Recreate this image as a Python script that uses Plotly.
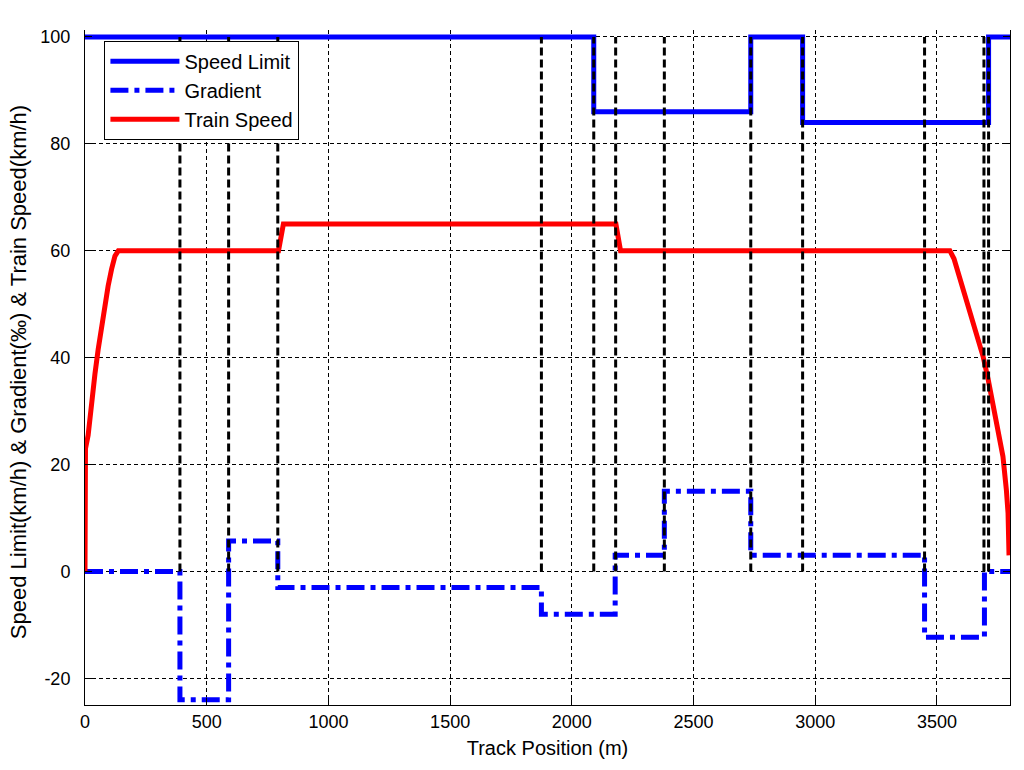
import plotly.graph_objects as go

# ---------------------------------------------------------------
# Data
# ---------------------------------------------------------------
# speed limit (km/h), stepwise: value holds from pos to the next pos
limit_pos = [0, 2090, 2735, 2948, 3712, 3800]
limit_val = [100, 86, 100, 84, 100, 100]

# gradient (per mille), stepwise
grad_pos = [0, 390, 590, 792, 1875, 2178, 2380, 2735, 3449, 3695, 3800]
grad_val = [0, -24, 5.7, -3, -8, 3, 15, 3, -12.3, 0, 0]

# train speed (km/h)
speed_pos = [0, 0.5, 2, 13, 27, 41, 54, 68, 82, 95, 109, 123, 137,
             795, 815, 2181, 2200, 3553, 3570, 3587, 3614, 3642, 3669,
             3689, 3710, 3730, 3751, 3771, 3785, 3792, 3796]
speed_val = [0, 18, 23, 25.5, 32, 37, 41.5, 46, 49.6, 53.4, 56.5, 59, 60,
             60, 65, 65, 60, 60, 58.5, 56, 51.5, 47.8, 44,
             40.3, 36, 31.5, 26.5, 21.5, 15.3, 10.9, 3]

# section boundaries (black dashed verticals)
section_pos = [390, 590, 792, 1875, 2090, 2180, 2380, 2735, 2948, 3449, 3693, 3712]
section_low, section_high = 0, 100

x_ticks = [0, 500, 1000, 1500, 2000, 2500, 3000, 3500]
y_ticks = [-20, 0, 20, 40, 60, 80, 100]

# ---------------------------------------------------------------
# Figure
# ---------------------------------------------------------------
fig = go.Figure()

fig.add_trace(go.Scatter(x=limit_pos, y=limit_val, mode="lines", name="Speed Limit",
                         line=dict(color="#0000ff", width=5, shape="hv")))
fig.add_trace(go.Scatter(x=grad_pos, y=grad_val, mode="lines", name="Gradient",
                         line=dict(color="#0000ff", width=5, shape="hv",
                                   dash="18px,6px,5px,6px")))
fig.add_trace(go.Scatter(x=speed_pos, y=speed_val, mode="lines", name="Train Speed",
                         line=dict(color="#ff0000", width=5)))

sx, sy = [], []
for p in section_pos:
    sx += [p, p, None]
    sy += [section_low, section_high, None]
fig.add_trace(go.Scatter(x=sx, y=sy, mode="lines", showlegend=False,
                         line=dict(color="black", width=3, dash="8px,4px")))

font = "Liberation Sans, Arial"
axis_common = dict(
    showline=True, linecolor="black", linewidth=1,
    ticks="inside", ticklen=7, tickcolor="black",
    showgrid=True, gridcolor="black", gridwidth=1, griddash="4px,3px",
    zeroline=False, automargin=False,
    tickfont=dict(family=font, size=18, color="black"),
)

fig.update_xaxes(axis_common, range=[0, 3800], tickvals=x_ticks, mirror=False,
                 title=dict(text="Track Position (m)", standoff=10,
                            font=dict(family=font, size=20, color="black")))
# plain hyphen for negatives, like the original
fig.update_yaxes(axis_common, range=[-25, 101.3], tickvals=y_ticks,
                 ticktext=[str(v) for v in y_ticks], mirror="ticks",
                 ticklabelstandoff=10)

# y title as an annotation so it can sit further left than standoff allows
fig.add_annotation(text="Speed Limit(km/h) & Gradient(‰) & Train Speed(km/h)",
                   xref="paper", yref="paper", x=-0.0725, y=0.493,
                   xanchor="center", yanchor="middle", textangle=-90,
                   showarrow=False, font=dict(family=font, size=22, color="black"))

fig.update_layout(
    width=1024, height=770,
    margin=dict(l=85, r=14, t=30, b=65),
    plot_bgcolor="white", paper_bgcolor="white",
    legend=dict(x=0.021, y=0.984, xanchor="left", yanchor="top",
                bgcolor="white", bordercolor="black", borderwidth=1,
                itemwidth=69, tracegroupgap=0,
                font=dict(family=font, size=20, color="black")),
)

# drop the default page margin so the figure sits at the window's corner
fig.write_html("out.html", config={"displayModeBar": False},
               post_script="document.body.style.margin='0px';")
